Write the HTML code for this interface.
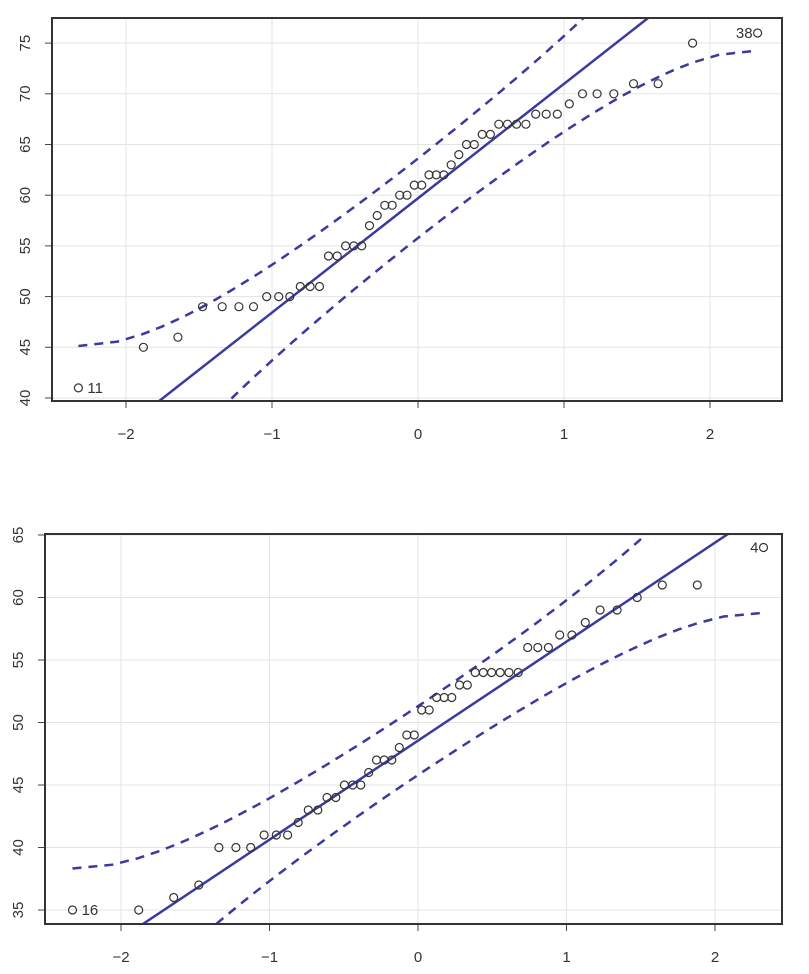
<!DOCTYPE html>
<html><head><meta charset="utf-8"><style>
html,body{margin:0;background:#fff;overflow:hidden;width:809px;height:974px;}
svg{display:block;font-family:"Liberation Sans",sans-serif;}
</style></head><body>
<svg id="s" width="809" height="974" xmlns="http://www.w3.org/2000/svg"></svg>
<script>
function qnorm(p){
 var a=[-3.969683028665376e+01,2.209460984245205e+02,-2.759285104469687e+02,1.383577518672690e+02,-3.066479806614716e+01,2.506628277459239e+00];
 var b=[-5.447609879822406e+01,1.615858368580409e+02,-1.556989798598866e+02,6.680131188771972e+01,-1.328068155288572e+01];
 var c=[-7.784894002430293e-03,-3.223964580411365e-01,-2.400758277161838e+00,-2.549732539343734e+00,4.374664141464968e+00,2.938163982698783e+00];
 var d=[7.784695709041462e-03,3.224671290700398e-01,2.445134137142996e+00,3.754408661907416e+00];
 var q,r;
 if(p<0.02425){q=Math.sqrt(-2*Math.log(p));return (((((c[0]*q+c[1])*q+c[2])*q+c[3])*q+c[4])*q+c[5])/((((d[0]*q+d[1])*q+d[2])*q+d[3])*q+1);}
 if(p>1-0.02425){return -qnorm(1-p);}
 q=p-0.5;r=q*q;return (((((a[0]*r+a[1])*r+a[2])*r+a[3])*r+a[4])*r+a[5])*q/(((((b[0]*r+b[1])*r+b[2])*r+b[3])*r+b[4])*r+1);
}
function dn(x){return Math.exp(-x*x/2)/Math.sqrt(2*Math.PI);}
var svg=document.getElementById('s'),h='';
function plot(o){
 var X=function(v){return o.x0+v*o.xs;},Y=function(v){return o.y0-(v-o.v0)*o.ys;};
 h+='<defs><clipPath id="c'+o.id+'"><rect x="'+o.L+'" y="'+o.T+'" width="'+(o.R-o.L)+'" height="'+(o.B-o.T)+'"/></clipPath></defs>';
 for(var t=-2;t<=2;t++){h+='<line x1="'+X(t)+'" x2="'+X(t)+'" y1="'+o.T+'" y2="'+o.B+'" stroke="#e3e3e3" stroke-width="1"/>';
  h+='<line x1="'+X(t)+'" x2="'+X(t)+'" y1="'+o.B+'" y2="'+(o.B+7)+'" stroke="#444"/>';
  h+='<text x="'+X(t)+'" y="'+(o.B+38)+'" font-size="15" fill="#333" text-anchor="middle">'+(t<0?'\u2212'+(-t):t)+'</text>';}
 o.yt.forEach(function(v){var y=Y(v);h+='<line x1="'+o.L+'" x2="'+o.R+'" y1="'+y+'" y2="'+y+'" stroke="#e3e3e3"/>';
  h+='<line x1="'+(o.L-7)+'" x2="'+o.L+'" y1="'+y+'" y2="'+y+'" stroke="#444"/>';
  h+='<text transform="translate('+(o.L-22)+','+y+') rotate(-90)" font-size="15" fill="#333" text-anchor="middle">'+v+'</text>';});
 var n=o.d.length,g='<g clip-path="url(#c'+o.id+')">';
 g+='<line x1="'+X(-3)+'" y1="'+Y(o.a-3*o.b)+'" x2="'+X(3)+'" y2="'+Y(o.a+3*o.b)+'" stroke="#3a3aa0" stroke-width="2.5"/>';
 var up='',lo='';
 for(var i=0;i<=100;i++){var p=0.01+0.98*i/100,z=qnorm(p),se=o.b/dn(z)*Math.sqrt(p*(1-p)/n),m=o.a+o.b*z;
  up+=(i?'L':'M')+X(z).toFixed(1)+','+Y(m+1.96*se).toFixed(1);lo+=(i?'L':'M')+X(z).toFixed(1)+','+Y(m-1.96*se).toFixed(1);}
 g+='<path d="'+up+'" fill="none" stroke="#3a3aa0" stroke-width="2.5" stroke-dasharray="9,7"/><path d="'+lo+'" fill="none" stroke="#3a3aa0" stroke-width="2.5" stroke-dasharray="9,7"/>';
 for(var i=0;i<n;i++){var z=qnorm((i+0.5)/n);g+='<circle cx="'+X(z).toFixed(1)+'" cy="'+Y(o.d[i]).toFixed(1)+'" r="4" fill="none" stroke="#333" stroke-width="1.2"/>';}
 g+='</g>';h+=g;
 h+='<text x="'+(X(-2.326)+9)+'" y="'+(Y(o.d[0])+5)+'" font-size="15" fill="#333">'+o.l1+'</text>';
 h+='<text x="'+(X(2.326)-5)+'" y="'+(Y(o.d[n-1])+5)+'" font-size="15" fill="#333" text-anchor="end">'+o.l2+'</text>';
 h+='<path d="M'+o.L+','+o.B+'V'+o.T+'H'+o.R+'V'+o.B+'Z" fill="none" stroke="#333" stroke-width="2"/>';
}
plot({id:1,L:52,R:782,T:18,B:401,x0:418,xs:146,y0:398,v0:40,ys:10.14,yt:[40,45,50,55,60,65,70,75],a:59.7,b:11.28,l1:'11',l2:'38',
 d:[41,45,46,49,49,49,49,50,50,50,51,51,51,54,54,55,55,55,57,58,59,59,60,60,61,61,62,62,62,63,64,65,65,66,66,67,67,67,67,68,68,68,69,70,70,70,71,71,75,76]});
plot({id:2,L:45,R:782,T:534,B:924,x0:418,xs:148.5,y0:910,v0:35,ys:12.5,yt:[35,40,45,50,55,60,65],a:48.55,b:7.92,l1:'16',l2:'4',
 d:[35,35,36,37,40,40,40,41,41,41,42,43,43,44,44,45,45,45,46,47,47,47,48,49,49,51,51,52,52,52,53,53,54,54,54,54,54,54,56,56,56,57,57,58,59,59,60,61,61,64]});
svg.innerHTML=h;
</script>
</body></html>
